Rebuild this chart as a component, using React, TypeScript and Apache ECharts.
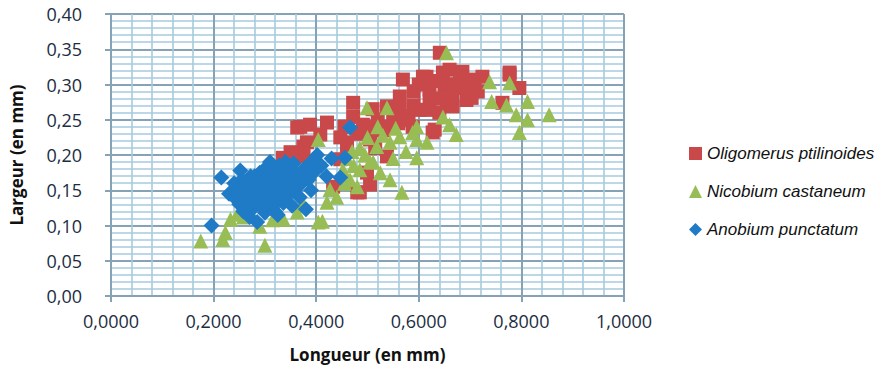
import React, { useEffect, useRef } from "react";
import * as echarts from "echarts";

const seriesNames = ["Oligomerus ptilinoides", "Nicobium castaneum", "Anobium punctatum"];

const oligomerus: number[][] = [
  [0.363, 0.239], [0.369, 0.240], [0.388, 0.243], [0.375, 0.198], [0.382, 0.218],
  [0.350, 0.204], [0.375, 0.212], [0.335, 0.196], [0.421, 0.246], [0.433, 0.155],
  [0.447, 0.225], [0.447, 0.194], [0.460, 0.218], [0.472, 0.274], [0.472, 0.254],
  [0.480, 0.147], [0.485, 0.147], [0.491, 0.243], [0.499, 0.175], [0.505, 0.222],
  [0.505, 0.158], [0.520, 0.250], [0.538, 0.269], [0.538, 0.198], [0.550, 0.258],
  [0.563, 0.283], [0.563, 0.264], [0.569, 0.307], [0.575, 0.250], [0.588, 0.240],
  [0.602, 0.264], [0.608, 0.311], [0.615, 0.311], [0.615, 0.264], [0.621, 0.293],
  [0.621, 0.278], [0.627, 0.232], [0.631, 0.236], [0.641, 0.345], [0.647, 0.317],
  [0.650, 0.290], [0.660, 0.321], [0.666, 0.269], [0.670, 0.300], [0.680, 0.302],
  [0.685, 0.318], [0.693, 0.278], [0.703, 0.281], [0.709, 0.307], [0.724, 0.311],
  [0.763, 0.274], [0.777, 0.317], [0.777, 0.314], [0.796, 0.295],
  [0.455, 0.240], [0.480, 0.230], [0.515, 0.210], [0.530, 0.235], [0.460, 0.205],
  [0.590, 0.290], [0.600, 0.300], [0.630, 0.305], [0.640, 0.280], [0.655, 0.300],
  [0.665, 0.285], [0.690, 0.295], [0.700, 0.300], [0.640, 0.260], [0.560, 0.245],
  [0.590, 0.270], [0.545, 0.240], [0.500, 0.240], [0.510, 0.265], [0.408, 0.229],
  [0.715, 0.290], [0.655, 0.275], [0.580, 0.255],
];

const nicobium: number[][] = [
  [0.175, 0.078], [0.218, 0.080], [0.223, 0.090], [0.233, 0.109], [0.246, 0.116],
  [0.258, 0.112], [0.290, 0.099], [0.300, 0.072], [0.315, 0.108], [0.336, 0.109],
  [0.363, 0.119], [0.375, 0.130], [0.404, 0.105], [0.412, 0.106], [0.421, 0.133],
  [0.427, 0.151], [0.404, 0.222], [0.440, 0.140], [0.452, 0.179], [0.466, 0.165],
  [0.480, 0.155], [0.485, 0.179], [0.485, 0.210], [0.499, 0.267], [0.505, 0.190],
  [0.511, 0.190], [0.518, 0.212], [0.525, 0.175], [0.538, 0.267], [0.544, 0.218],
  [0.544, 0.165], [0.550, 0.195], [0.563, 0.226], [0.567, 0.147], [0.575, 0.205],
  [0.588, 0.232], [0.596, 0.240], [0.596, 0.222], [0.596, 0.196], [0.616, 0.218],
  [0.647, 0.254], [0.654, 0.345], [0.660, 0.243], [0.673, 0.229], [0.738, 0.304],
  [0.742, 0.276], [0.771, 0.271], [0.777, 0.302], [0.790, 0.257], [0.796, 0.232],
  [0.812, 0.276], [0.812, 0.250], [0.854, 0.257],
  [0.460, 0.195], [0.470, 0.205], [0.495, 0.200], [0.530, 0.228], [0.555, 0.238],
  [0.520, 0.240], [0.500, 0.225], [0.455, 0.160], [0.473, 0.185],
];

const anobium: number[][] = [
  [0.196, 0.100], [0.215, 0.168], [0.252, 0.178], [0.230, 0.145], [0.240, 0.140],
  [0.245, 0.155], [0.250, 0.130], [0.255, 0.165], [0.258, 0.120], [0.262, 0.148],
  [0.265, 0.135], [0.268, 0.158], [0.270, 0.112], [0.272, 0.170], [0.275, 0.142],
  [0.278, 0.125], [0.280, 0.160], [0.282, 0.150], [0.285, 0.105], [0.287, 0.138],
  [0.290, 0.175], [0.292, 0.128], [0.295, 0.162], [0.298, 0.145], [0.300, 0.118],
  [0.302, 0.182], [0.305, 0.155], [0.308, 0.135], [0.310, 0.168], [0.312, 0.125],
  [0.315, 0.150], [0.318, 0.175], [0.320, 0.140], [0.322, 0.160], [0.325, 0.115],
  [0.328, 0.185], [0.330, 0.148], [0.333, 0.170], [0.336, 0.132], [0.340, 0.158],
  [0.343, 0.178], [0.346, 0.145], [0.350, 0.165], [0.353, 0.128], [0.356, 0.188],
  [0.360, 0.152], [0.364, 0.172], [0.368, 0.140], [0.372, 0.160], [0.376, 0.180],
  [0.380, 0.123], [0.385, 0.165], [0.390, 0.150], [0.395, 0.175], [0.402, 0.200],
  [0.410, 0.185], [0.420, 0.170], [0.430, 0.195], [0.447, 0.168], [0.456, 0.196],
  [0.466, 0.239],
  [0.270, 0.130], [0.290, 0.150], [0.310, 0.145], [0.330, 0.160], [0.350, 0.150],
  [0.300, 0.165], [0.320, 0.130], [0.340, 0.140], [0.260, 0.140], [0.280, 0.170],
  [0.360, 0.165], [0.370, 0.170], [0.380, 0.180], [0.390, 0.190], [0.240, 0.160],
  [0.250, 0.150], [0.310, 0.190], [0.340, 0.190], [0.300, 0.130], [0.320, 0.120],
];

const xTitle = "Longueur (en mm)";
const yTitle = "Largeur (en mm)";

const labelColor = "#1c2d3f";
const majorColor = "#86a3b5";
const minorColor = "#a6cbde";

export default function App() {
  const ref = useRef<HTMLDivElement>(null);
  useEffect(() => {
    if (!ref.current) return;
    const chart = echarts.init(ref.current, undefined, { renderer: "svg" });
    const labelFont = { color: labelColor, fontFamily: "Open Sans", fontSize: 18 };
    chart.setOption({
      animation: false,
      backgroundColor: "#ffffff",
      grid: { left: 110, right: 265, top: 14, bottom: 74 },
      legend: {
        orient: "vertical",
        left: 684,
        top: 140,
        itemWidth: 13,
        itemHeight: 13,
        itemGap: 21,
        textStyle: {
          fontFamily: "Liberation Sans",
          fontStyle: "italic",
          fontSize: 17,
          color: "#111111",
        },
        data: seriesNames,
      },
      xAxis: {
        type: "value",
        min: 0,
        max: 1,
        interval: 0.2,
        name: xTitle,
        nameLocation: "middle",
        nameGap: 50,
        nameTextStyle: { fontFamily: "Open Sans", fontWeight: "bold", fontSize: 17, color: "#111111" },
        axisLine: { show: true, lineStyle: { color: majorColor, width: 2 } },
        axisTick: { show: true, length: 6, lineStyle: { color: majorColor, width: 2 } },
        axisLabel: { ...labelFont, margin: 16, formatter: (v: number) => v.toFixed(4).replace(".", ",") },
        splitLine: { show: true, lineStyle: { color: majorColor, width: 2 } },
        minorTick: { show: false, splitNumber: 5 },
        minorSplitLine: { show: true, lineStyle: { color: minorColor, width: 1.6 } },
      },
      yAxis: {
        type: "value",
        min: 0,
        max: 0.4,
        interval: 0.05,
        name: yTitle,
        nameLocation: "middle",
        nameGap: 86,
        nameRotate: 90,
        nameTextStyle: { fontFamily: "Open Sans", fontWeight: "bold", fontSize: 17, color: "#111111" },
        axisLine: { show: true, lineStyle: { color: majorColor, width: 2 } },
        axisTick: { show: true, length: 6, lineStyle: { color: majorColor, width: 2 } },
        axisLabel: { ...labelFont, margin: 29, formatter: (v: number) => v.toFixed(2).replace(".", ",") },
        splitLine: { show: true, lineStyle: { color: majorColor, width: 2 } },
        minorTick: { show: false, splitNumber: 5 },
        minorSplitLine: { show: true, lineStyle: { color: minorColor, width: 1.6 } },
      },
      series: [
        {
          name: seriesNames[0],
          type: "scatter",
          symbol: "rect",
          symbolSize: 14,
          itemStyle: { color: "#c9494b", opacity: 1 },
          data: oligomerus,
        },
        {
          name: seriesNames[1],
          type: "scatter",
          symbol: "triangle",
          symbolSize: 15,
          itemStyle: { color: "#99bd55", opacity: 1 },
          data: nicobium,
        },
        {
          name: seriesNames[2],
          type: "scatter",
          symbol: "diamond",
          symbolSize: 16,
          itemStyle: { color: "#1f7bc6", opacity: 1 },
          data: anobium,
        },
      ],
    });
    return () => chart.dispose();
  }, []);
  return (
    <div
      ref={ref}
      style={{ position: "fixed", left: 0, top: 0, width: 889, height: 370 }}
    />
  );
}
